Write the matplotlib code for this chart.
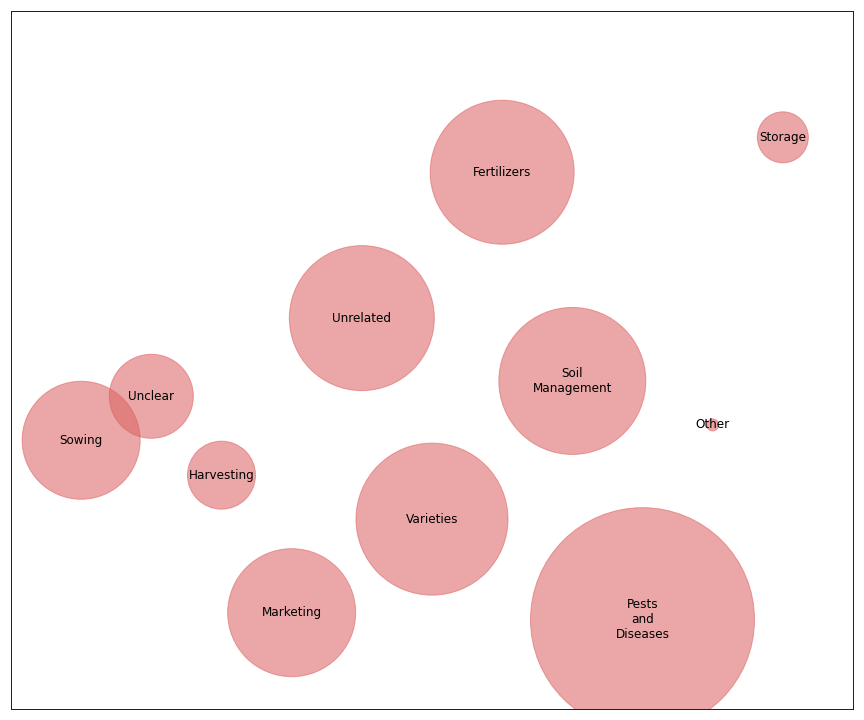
import numpy as np
from matplotlib import pyplot as plt

labels = ['Sowing', 'Unclear', 'Harvesting', 'Marketing', 'Unrelated', 'Varieties',
          'Fertilizers', 'Soil\nManagement', 'Pests\nand\nDiseases', 'Other', 'Storage']
y_values = [38.5, 44.8, 33.5, 13.8, 56.0, 27.2, 76.9, 47.0, 12.8, 40.7, 81.9]
sizes = [13924, 7056, 4624, 16384, 21025, 23104, 20736, 21609, 50176, 144, 2601]

fig = plt.figure(figsize=(12, 10), dpi=72)
ax = fig.add_axes([11 / 864, 11 / 720, 842 / 864, 698 / 720])

x = np.arange(len(labels))
ax.scatter(x, y_values, s=sizes, color='#dc5f5f', alpha=0.55, linewidths=1)
for xi, yi, label in zip(x, y_values, labels):
    ax.text(xi, yi, label, ha='center', va='center', fontsize=12, multialignment='center')

ax.set_xlim(-1, 11)
ax.set_ylim(0, 100)
ax.set_xticks([])
ax.set_yticks([])
for spine in ax.spines.values():
    spine.set_color('#222222')
    spine.set_linewidth(1.0)

fig.savefig('out.png', dpi=72)
